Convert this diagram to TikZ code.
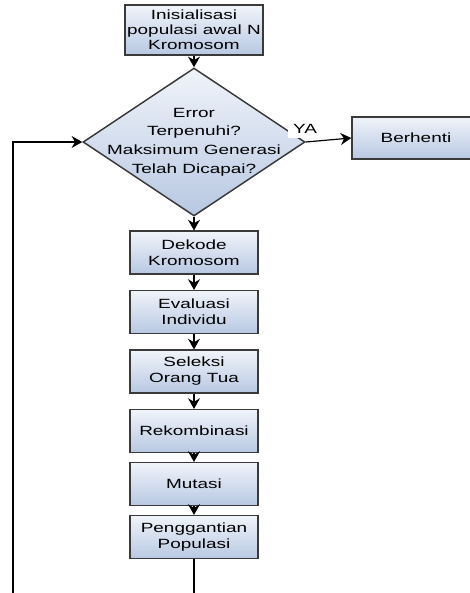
\documentclass[tikz,border=0pt]{standalone}
\usepackage{fontspec}
\setmainfont[FakeStretch=1.42]{Liberation Sans}
\usetikzlibrary{shapes.geometric}
\usetikzlibrary{arrows.meta}
\definecolor{kotakatas}{RGB}{240,244,250}
\definecolor{kotakbawah}{RGB}{184,200,226}
\definecolor{tepi}{RGB}{58,58,58}
\tikzset{
  proses/.style={draw=tepi, line width=1.1pt, top color=kotakatas, bottom color=kotakbawah,
    minimum width=96pt, minimum height=32pt, inner sep=1pt, align=center,
    font=\fontsize{10}{12}\selectfont},
  putusan/.style={diamond, draw=tepi, line width=1.1pt, top color=kotakatas, bottom color=kotakbawah,
    minimum width=166.5pt, minimum height=111pt, inner sep=0pt},
  panah/.style={-{Stealth[length=8pt,width=9pt]}, line width=0.9pt},
  garisan/.style={line width=0.9pt},
}

\begin{document}
\begin{tikzpicture}[x=0.75pt, y=-0.75pt]
        \path[use as bounding box, clip] (0,0) rectangle (470,593);
        % awal dan keputusan
        \node[proses, minimum width=103.5pt, minimum height=37.5pt, font=\fontsize{10}{11.2}\selectfont] (init) at (194,30) {Inisialisasi\\populasi awal N\\Kromosom};
        \node[putusan] (cek) at (194,142) {};
        \node[align=center, font=\fontsize{10}{14}\selectfont] (cektext) at (194,142) {Error\\Terpenuhi?\\Maksimum Generasi\\Telah Dicapai?};
        \node[proses, minimum height=31.5pt] (stop) at (416,138) {Berhenti};
        % langkah proses
        \node[proses] (dekode) at (194,252.5) {Dekode\\Kromosom};
        \node[proses] (eval) at (194,312) {Evaluasi\\Individu};
        \node[proses] (seleksi) at (194,371.5) {Seleksi\\Orang Tua};
        \node[proses] (rekom) at (194,431) {Rekombinasi};
        \node[proses] (mutasi) at (194,484) {Mutasi};
        \node[proses] (ganti) at (194,537) {Penggantian\\Populasi};
        % ujung yang terpotong
        \coordinate (bawahtengah) at (194,593);
        \coordinate (bawahkiri) at (13,593);
        % panah
        \draw[panah] (init) -- (cek);
        \draw[panah] (cek.east) -- (stop.west);
        \node[fill=white, inner sep=3.5pt, font=\fontsize{10}{12}\selectfont] (ya) at (305,129) {YA};
        \draw[panah] (cek) -- (dekode);
        \draw[panah] (dekode) -- (eval);
        \draw[panah] (eval) -- (seleksi);
        \draw[panah] (seleksi) -- (rekom);
        \draw[panah] (rekom) -- (mutasi);
        \draw[panah] (mutasi) -- (ganti);
        \draw[garisan] (ganti) -- (bawahtengah);
        \draw[panah] (bawahkiri) |- (cek.west);
    \end{tikzpicture}
\end{document}
